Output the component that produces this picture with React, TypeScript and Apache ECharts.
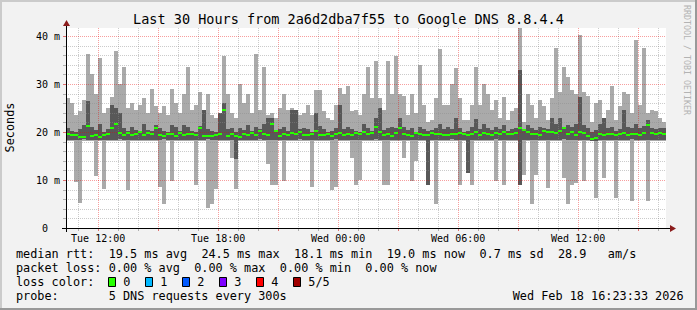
import React, { useEffect, useRef } from "react";
import * as echarts from "echarts";

const W = 697;
const H = 310;

// time axis: hours since Tue 00:00 (Tue 10:23:33 -> Wed 16:23:33)
const START_H = 10.3925;
const END_H = 40.3925;
const STEP_H = 0.2; // one sample per 12 minutes
const Y_MAX = 41.667;

// median rtt (ms)
const MED = [
  19.6, 19.4, 19.3, 19.0, 19.0, 21.2, 19.2, 19.4, 19.0, 19.3, 19.6, 20.8, 21.6, 19.7, 19.3, 19.8, 19.4, 19.6, 19.9, 19.3, 19.7, 19.5, 20.8, 19.4, 19.2, 19.6, 19.5, 19.2, 19.8, 19.4,
  19.6, 19.6, 19.3, 20.8, 19.2, 19.1, 19.2, 19.4, 19.5, 24.5, 19.2, 19.6, 19.2, 19.0, 19.5, 19.4, 19.8, 19.3, 20.2, 19.6, 19.3, 21.6, 20.2, 19.1, 19.6, 19.3, 19.7, 19.5, 20.0, 19.3,
  19.4, 19.6, 20.2, 19.4, 19.3, 19.6, 19.2, 19.5, 19.8, 19.3, 19.5, 19.4, 19.7, 19.6, 20.0, 19.5, 19.7, 21.1, 20.0, 19.3, 19.6, 19.2, 19.7, 20.8, 19.6, 19.4, 19.2, 19.8, 19.5, 19.4,
  19.4, 19.7, 19.5, 19.6, 19.4, 19.4, 19.5, 19.6, 19.8, 19.5, 19.3, 19.6, 19.9, 19.4, 19.8, 19.6, 19.4, 19.8, 19.5, 19.9, 19.6, 19.5, 19.7, 20.8, 20.4, 19.9, 19.6, 19.5, 19.4, 20.2,
  19.9, 20.0, 19.7, 20.3, 20.8, 19.6, 19.9, 19.4, 20.1, 19.8, 19.2, 18.6, 18.8, 19.5, 19.4, 19.6, 19.5, 19.4, 19.5, 19.8, 19.4, 19.6, 19.5, 19.3, 19.7, 21.5, 19.8, 19.5, 19.8, 19.6,
];

// outer smoke (light grey) top / bottom (ms)
const HI = [
  27, 26, 23.5, 24.3, 26.7, 36.3, 32, 28, 35.5, 24, 25, 27.2, 36.8, 30, 33.6, 25, 26, 24.5, 25.7, 27, 24, 28.9, 25.5, 24, 25.5, 23.5, 29, 26, 24, 28,
  33.6, 24.5, 25.7, 28.3, 24.5, 28, 23.5, 23, 24, 35.8, 28, 24, 23, 29.9, 26, 28, 24, 36.2, 24.5, 33.6, 23.5, 24, 23, 25, 28, 24.5, 25, 24, 23.5, 24,
  25.7, 23.5, 28.8, 28.8, 24.3, 23, 22.5, 25.7, 29.2, 28, 29.5, 24.3, 24.5, 23.5, 28, 33.6, 27, 34.7, 27, 24.5, 34.7, 28, 35.8, 28, 27.5, 23.5, 28, 24, 34, 25.7,
  22, 22.5, 27, 37.2, 25.7, 25.7, 30, 33.3, 27, 22.5, 22.5, 25.7, 33.6, 25.7, 29.9, 28, 24.5, 26.7, 23, 27.2, 22.5, 24.3, 25, 41.6, 22, 28, 25.7, 23, 26.7, 25.5,
  22.5, 27, 37.5, 28.3, 33.6, 31.5, 28.8, 28, 40.3, 28.3, 27.5, 22, 26, 26.7, 23, 24.5, 29.5, 22.5, 25.5, 28.3, 28, 24, 39.2, 25.7, 37.5, 24, 24.5, 24.3, 23, 22,
];
const LO = [
  18.1, 18.1, 9.6, 5.3, 18.1, 18.1, 18.1, 10.9, 18.1, 8.1, 18.1, 18.1, 18.1, 18.1, 18.1, 7.9, 18.1, 18.1, 18.1, 18.1, 18.1, 18.1, 18.1, 8.6, 5.0, 18.1, 9.7, 18.1, 18.1, 18.1,
  18.1, 18.1, 9.0, 18.1, 18.1, 4.2, 5.0, 8.2, 18.1, 18.1, 18.1, 14.6, 8.2, 18.1, 18.1, 18.1, 18.1, 18.1, 18.1, 18.1, 13.3, 9.0, 9.0, 18.1, 9.7, 18.1, 18.1, 18.1, 18.1, 18.1,
  18.1, 8.6, 18.1, 18.1, 18.1, 18.1, 7.9, 8.6, 18.1, 18.1, 18.1, 14.6, 9.0, 10.0, 18.1, 18.1, 18.1, 18.1, 18.1, 9.0, 9.0, 18.1, 18.1, 18.1, 14.6, 18.1, 9.7, 13.9, 18.1, 18.1,
  9.0, 18.1, 4.9, 18.1, 18.1, 18.1, 18.1, 18.1, 9.0, 18.1, 11.4, 9.0, 18.1, 18.1, 18.1, 18.1, 18.1, 9.7, 18.1, 9.0, 18.1, 18.1, 18.1, 9.0, 11.0, 18.1, 4.9, 11.0, 18.1, 18.1,
  8.3, 18.1, 18.1, 18.1, 10.4, 4.9, 9.0, 9.4, 18.1, 9.7, 18.1, 18.1, 6.3, 18.1, 10.4, 18.1, 18.1, 6.3, 18.1, 18.1, 18.1, 5.6, 18.1, 18.1, 18.1, 5.6, 18.1, 18.1, 18.1, 18.1,
];

// inner smoke (dark grey) top / bottom (ms)
const DHI = [
  20.9, 20.3, 20.0, 20.6, 21.4, 26.5, 21.0, 20.4, 21.6, 20.0, 20.7, 25.6, 25.0, 24.0, 20.9, 20.2, 21.1, 20.5, 20.1, 21.7, 20.4, 20.2, 21.5, 20.8, 20.2, 20.0, 21.4, 21.1, 20.2, 21.5,
  21.1, 20.2, 20.0, 21.2, 24.5, 20.6, 20.2, 20.1, 24.0, 26.0, 20.6, 20.9, 20.1, 20.8, 20.4, 21.4, 20.2, 21.1, 20.6, 21.6, 23.0, 23.0, 20.2, 20.6, 21.1, 20.2, 24.5, 24.5, 20.6, 20.9,
  20.6, 20.0, 24.0, 21.3, 20.6, 20.1, 20.2, 20.9, 25.7, 20.6, 21.1, 20.6, 20.2, 20.0, 21.6, 20.9, 20.2, 23.0, 25.0, 20.4, 20.8, 21.1, 20.9, 22.9, 21.1, 20.5, 20.8, 20.1, 21.1, 20.6,
  20.2, 20.4, 20.9, 21.6, 20.6, 21.1, 20.6, 23.0, 20.9, 20.0, 20.2, 21.1, 22.8, 20.6, 21.7, 20.9, 20.4, 21.1, 20.6, 21.5, 20.2, 20.6, 20.8, 33.0, 20.6, 21.5, 20.9, 20.4, 21.1, 20.8,
  20.6, 22.9, 21.6, 23.0, 21.1, 21.5, 21.1, 21.7, 27.2, 21.5, 20.9, 20.0, 20.4, 21.7, 22.9, 20.8, 21.1, 20.2, 20.6, 24.5, 21.1, 20.8, 21.6, 20.9, 21.3, 22.5, 20.9, 20.6, 20.8, 20.9,
];
const DLO = [
  18.3, 18.4, 18.3, 18.3, 18.5, 18.3, 18.4, 18.3, 18.3, 18.3, 18.4, 18.3, 18.3, 18.5, 18.3, 18.3, 18.4, 18.3, 18.3, 18.3, 18.4, 18.3, 18.3, 18.3, 18.5, 18.3, 18.3, 18.4, 18.3, 18.3,
  18.3, 18.4, 18.3, 18.3, 18.3, 18.5, 18.3, 18.3, 18.4, 18.3, 18.3, 18.3, 14.3, 18.3, 18.4, 18.3, 18.3, 18.3, 18.5, 18.3, 18.3, 18.4, 18.3, 18.3, 18.3, 18.4, 18.3, 18.3, 18.5, 18.3,
  18.3, 18.4, 18.3, 18.3, 18.3, 18.4, 18.3, 18.5, 18.3, 18.3, 18.4, 18.3, 18.3, 18.3, 18.4, 18.3, 18.3, 18.5, 18.3, 18.3, 18.4, 18.3, 18.3, 18.3, 18.4, 18.3, 18.3, 18.3, 18.4, 18.4,
  9.0, 18.3, 18.4, 18.3, 18.3, 18.3, 18.5, 18.3, 18.3, 18.4, 11.4, 18.3, 18.3, 18.3, 18.4, 18.3, 18.3, 18.5, 18.3, 18.3, 18.4, 18.3, 18.3, 9.0, 18.3, 18.4, 18.3, 18.3, 18.3, 18.4,
  18.3, 18.3, 18.4, 18.3, 18.5, 18.3, 18.3, 18.4, 18.3, 18.3, 18.3, 18.2, 18.2, 18.3, 18.4, 18.3, 18.3, 18.3, 18.4, 18.3, 18.3, 18.5, 18.3, 18.3, 18.4, 18.3, 18.3, 18.3, 18.4, 18.3,
];

// grid / tick positions
const X_MINOR = [11, 13, 14, 16, 17, 19, 20, 22, 23, 25, 26, 28, 29, 31, 32, 34, 35, 37, 38, 40];
const X_MAJOR = [12, 15, 18, 21, 24, 27, 30, 33, 36, 39];
const X_LABEL_VALUES = [12, 18, 24, 30, 36];
const X_LABELS = ["Tue 12:00", "Tue 18:00", "Wed 00:00", "Wed 06:00", "Wed 12:00"];
const Y_MINOR = [2, 4, 6, 8, 12, 14, 16, 18, 22, 24, 26, 28, 32, 34, 36, 38];
const Y_MAJOR = [10, 20, 30, 40];

// texts
const TITLE = "Last 30 Hours from 2a6d2dba7f55 to Google DNS 8.8.4.4";
const Y_NAME = "Seconds";
const WATERMARK = "RRDTOOL / TOBI OETIKER";
const RTT_ITEMS: [number, string][] = [
  [0, "median rtt:"], [13, "19.5 ms avg"], [26, "24.5 ms max"], [39, "18.1 ms min"],
  [52, "19.0 ms now"], [65, "0.7 ms sd"], [76, "28.9"], [83, "am/s"],
];
const LOSS_ITEMS: [number, string][] = [
  [0, "packet loss:"], [13, "0.00 % avg"], [25, "0.00 % max"], [37, "0.00 % min"], [49, "0.00 % now"],
];
const LOSS_COLOR_TITLE = "loss color:";
const LOSS_LABELS = ["0", "1", "2", "3", "4", "5/5"];
const LOSS_COLORS = ["#26ff00", "#00b8ff", "#0059ff", "#7e00ff", "#ff0000", "#a10000"];
const PROBE_ITEMS: [number, string][] = [[0, "probe:"], [13, "5 DNS requests every 300s"]];
const DATE_TEXT = "Wed Feb 18 16:23:33 2026";

const FONT = "'DejaVu Sans Mono', monospace";
const BG = "#f2f2f2";
const LIGHT = "#aaaaaa";
const DARK = "#585858";
const GRID_C = "rgba(140,140,140,0.45)";
const MGRID_C = "rgba(235,0,0,0.38)";

const LEG_X = 16;
const CHAR_W = 7.13;
const LEG_FS = 11.84;

function txt(x: number, y: number, s: string, fs: number, extra: any = {}) {
  return {
    type: "text",
    x,
    y,
    z: 20,
    ...extra,
    style: {
      text: s,
      fontSize: fs,
      fontFamily: FONT,
      fill: extra.fill || "#000",
      align: extra.align || "left",
      verticalAlign: "middle",
      textAlign: extra.align || "left",
      textVerticalAlign: "middle",
    },
  };
}

function buildOption() {
  const smokeData = MED.map((m, i) => [START_H + STEP_H * (i + 0.5), LO[i], HI[i], DLO[i], DHI[i], m]);
  const vGrid = [...X_MINOR.map((v) => [v, 0]), ...X_MAJOR.map((v) => [v, 1])];
  const hGrid = [...Y_MINOR.map((v) => [0, v, 0]), ...Y_MAJOR.map((v) => [0, v, 1])];

  const graphic: any[] = [];
  // 3D frame
  graphic.push({ type: "rect", shape: { x: 0, y: 0, width: W, height: 2 }, style: { fill: "#cbcbcb" }, z: 1 });
  graphic.push({ type: "rect", shape: { x: 0, y: 0, width: 2, height: H }, style: { fill: "#cbcbcb" }, z: 1 });
  graphic.push({ type: "rect", shape: { x: W - 2, y: 0, width: 2, height: H }, style: { fill: "#999999" }, z: 1 });
  graphic.push({ type: "rect", shape: { x: 0, y: H - 2, width: W, height: 2 }, style: { fill: "#999999" }, z: 1 });

  graphic.push(txt(348.5, 19, TITLE, 13.5, { align: "center" }));
  graphic.push(txt(10, 127.5, Y_NAME, LEG_FS, { align: "center", rotation: Math.PI / 2 }));
  graphic.push(txt(686.5, 60, WATERMARK, 8.3, { align: "center", rotation: -Math.PI / 2, fill: "#b3b3b3" }));

  // axes with arrows
  graphic.push({ type: "line", z: 30, shape: { x1: 62, y1: 228.5, x2: 670, y2: 228.5 }, style: { stroke: "#000", lineWidth: 1 } });
  graphic.push({ type: "line", z: 30, shape: { x1: 66.5, y1: 232, x2: 66.5, y2: 25 }, style: { stroke: "#000", lineWidth: 1 } });
  graphic.push({ type: "polygon", z: 31, shape: { points: [[670, 225], [670, 232], [676, 228.5]] }, style: { fill: "#8b1c1c" } });
  graphic.push({ type: "polygon", z: 31, shape: { points: [[63, 26], [70, 26], [66.5, 20]] }, style: { fill: "#8b1c1c" } });

  // legend
  RTT_ITEMS.forEach(([c, s]) => graphic.push(txt(LEG_X + c * CHAR_W, 254.3, s, LEG_FS)));
  LOSS_ITEMS.forEach(([c, s]) => graphic.push(txt(LEG_X + c * CHAR_W, 268.3, s, LEG_FS)));
  graphic.push(txt(LEG_X, 282.3, LOSS_COLOR_TITLE, LEG_FS));
  LOSS_LABELS.forEach((s, i) => {
    graphic.push({
      type: "rect",
      z: 20,
      shape: { x: 108.5 + i * 37, y: 277.5, width: 7, height: 9 },
      style: { fill: LOSS_COLORS[i], stroke: "#000", lineWidth: 1 },
    });
    graphic.push(txt(123.3 + i * 37, 282.3, s, LEG_FS));
  });
  PROBE_ITEMS.forEach(([c, s]) => graphic.push(txt(LEG_X + c * CHAR_W, 296, s, LEG_FS)));
  graphic.push(txt(512.7, 296, DATE_TEXT, LEG_FS));

  return {
    animation: false,
    backgroundColor: BG,
    grid: { left: 66, top: 28, width: 600, height: 200, show: true, backgroundColor: "#ffffff", borderWidth: 0 },
    xAxis: {
      type: "value",
      min: START_H,
      max: END_H,
      axisLine: { show: false },
      axisTick: { show: false },
      splitLine: { show: false },
      axisLabel: {
        customValues: X_LABEL_VALUES,
        formatter: (v: number) => {
          const k = X_LABEL_VALUES.indexOf(Math.round(v));
          return k >= 0 ? X_LABELS[k] : "";
        },
        fontFamily: FONT,
        fontSize: 10,
        color: "#000",
        margin: 5,
      },
    },
    yAxis: {
      type: "value",
      min: 0,
      max: Y_MAX,
      interval: 10,
      axisLine: { show: false },
      axisTick: { show: false },
      splitLine: { show: false },
      axisLabel: {
        formatter: (v: number) => (v === 0 ? "0\u00a0\u00a0" : Math.abs(v % 10) < 1e-9 ? `${v} m` : ""),
        fontFamily: FONT,
        fontSize: 10,
        color: "#000",
        margin: 6,
      },
    },
    series: [
      {
        type: "custom",
        z: 2,
        silent: true,
        data: smokeData,
        renderItem: (params: any, api: any) => {
          const t = api.value(0);
          const x0 = Math.round(api.coord([t - STEP_H / 2, 0])[0]);
          const x1 = Math.round(api.coord([t + STEP_H / 2, 0])[0]);
          const yLo = Math.round(api.coord([t, api.value(1)])[1]);
          const yHi = Math.round(api.coord([t, api.value(2)])[1]);
          const yDlo = Math.round(api.coord([t, api.value(3)])[1]);
          const yDhi = Math.round(api.coord([t, api.value(4)])[1]);
          return {
            type: "group",
            children: [
              { type: "rect", shape: { x: x0, y: yHi, width: x1 - x0, height: yLo - yHi }, style: { fill: LIGHT } },
              { type: "rect", shape: { x: x0, y: yDhi, width: x1 - x0, height: yDlo - yDhi }, style: { fill: DARK } },
            ],
          };
        },
      },
      {
        type: "custom",
        z: 3,
        silent: true,
        data: vGrid,
        renderItem: (params: any, api: any) => {
          const v = api.value(0);
          const major = api.value(1) === 1;
          const x = Math.round(api.coord([v, 0])[0]) + 0.5;
          const yb = api.coord([v, 0])[1];
          const yt = api.coord([v, Y_MAX])[1];
          const c = major ? MGRID_C : GRID_C;
          return {
            type: "group",
            children: [
              { type: "line", shape: { x1: x, y1: yt, x2: x, y2: yb }, style: { stroke: c, lineWidth: 1, lineDash: [1, 1] } },
              { type: "line", shape: { x1: x, y1: yb, x2: x, y2: yb + 3 }, style: { stroke: major ? "#e07070" : "#b0b0b0", lineWidth: 1 } },
            ],
          };
        },
      },
      {
        type: "custom",
        z: 3,
        silent: true,
        data: hGrid,
        renderItem: (params: any, api: any) => {
          const v = api.value(1);
          const major = api.value(2) === 1;
          const y = Math.round(api.coord([START_H, v])[1]) + 0.5;
          const xl = api.coord([START_H, v])[0];
          const xr = api.coord([END_H, v])[0];
          const c = major ? MGRID_C : GRID_C;
          return {
            type: "group",
            children: [
              { type: "line", shape: { x1: xl, y1: y, x2: xr, y2: y }, style: { stroke: c, lineWidth: 1, lineDash: [1, 1] } },
              { type: "line", shape: { x1: xl - 3, y1: y, x2: xl, y2: y }, style: { stroke: major ? "#e07070" : "#b0b0b0", lineWidth: 1 } },
            ],
          };
        },
      },
      {
        type: "custom",
        z: 4,
        silent: true,
        data: smokeData,
        renderItem: (params: any, api: any) => {
          const t = api.value(0);
          const x0 = Math.round(api.coord([t - STEP_H / 2, 0])[0]);
          const x1 = Math.round(api.coord([t + STEP_H / 2, 0])[0]);
          const ym = Math.round(api.coord([t, api.value(5)])[1]);
          return { type: "rect", shape: { x: x0, y: ym - 1, width: x1 - x0, height: 2 }, style: { fill: "#26ff00" } };
        },
      },
    ],
    graphic,
  };
}

export default function App() {
  const ref = useRef<HTMLDivElement>(null);
  useEffect(() => {
    if (!ref.current) return;
    const chart = echarts.init(ref.current, null, { renderer: "svg" });
    chart.setOption(buildOption() as any);
    return () => chart.dispose();
  }, []);
  return <div ref={ref} style={{ position: "fixed", left: 0, top: 0, width: W, height: H }} />;
}
